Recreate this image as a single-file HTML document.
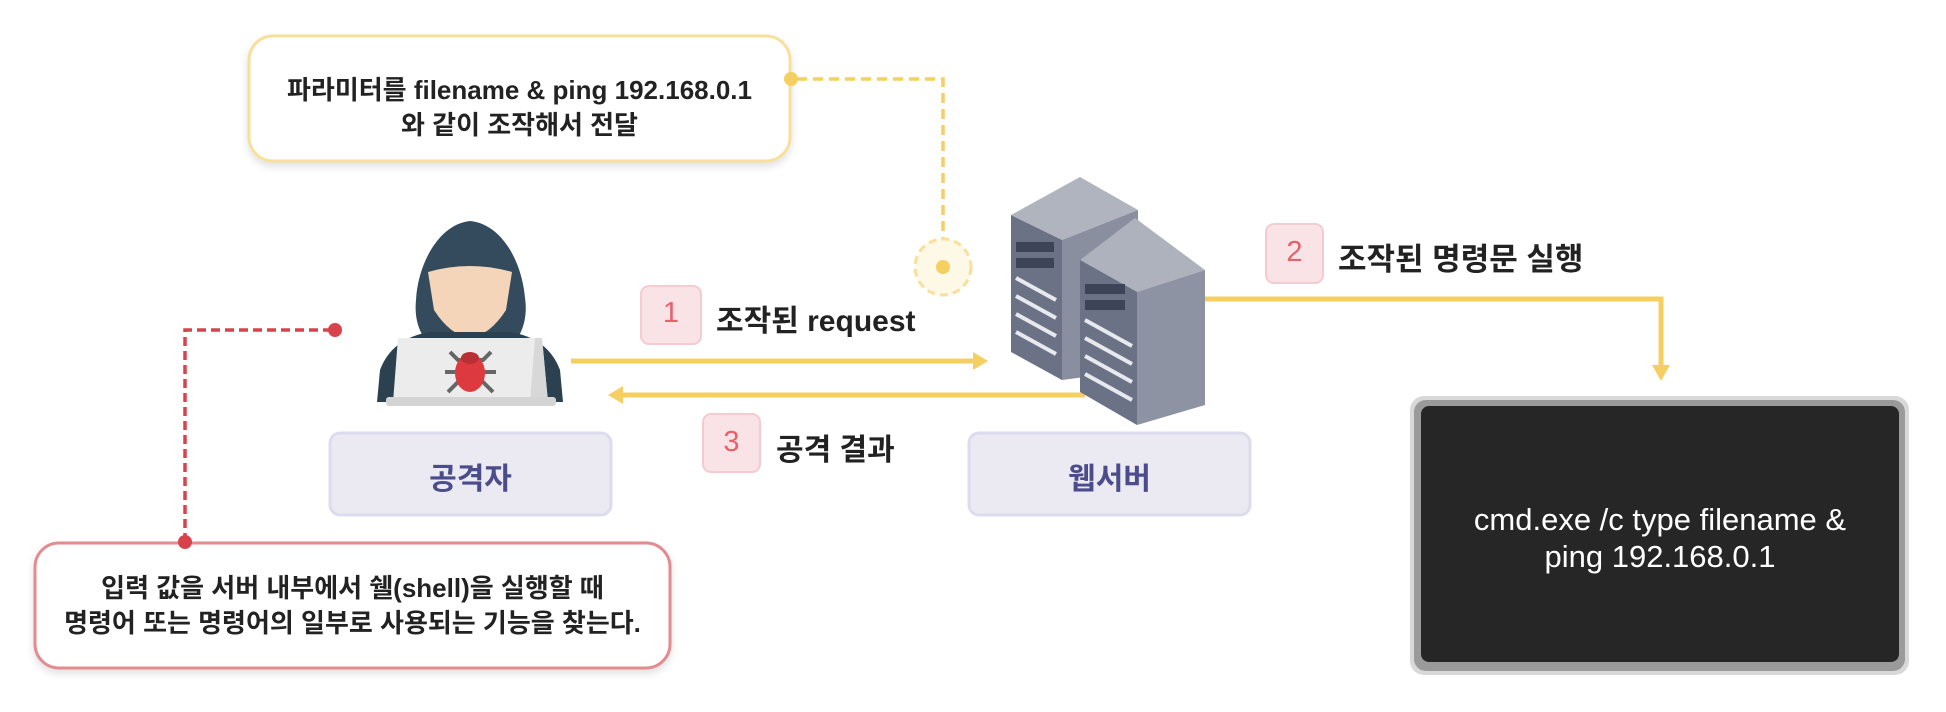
<!DOCTYPE html>
<html><head><meta charset="utf-8">
<style>
html,body{margin:0;padding:0;background:#fff;}
body{width:1946px;height:712px;overflow:hidden;position:relative;font-family:"Liberation Sans","Noto Sans CJK KR",sans-serif;}
.t{position:absolute;white-space:nowrap;}
</style></head><body>
<svg width="1946" height="712" style="position:absolute;left:0;top:0">
<defs>
<filter id="sh" x="-10%" y="-10%" width="120%" height="130%"><feDropShadow dx="0" dy="4" stdDeviation="4" flood-color="#000" flood-opacity="0.12"/></filter>
</defs>
<rect x="249" y="36" width="541" height="125" rx="24" fill="#fff" stroke="#f9e09a" stroke-width="3" filter="url(#sh)"/>
<circle cx="791" cy="79" r="7" fill="#f6cf63"/>
<path d="M797 79 H943 V267" fill="none" stroke="#f6cf63" stroke-width="3.5" stroke-dasharray="10 6"/>
<circle cx="943" cy="267" r="28" fill="#fef8e6" stroke="#f9e09a" stroke-width="3" stroke-dasharray="8 5"/>
<circle cx="943" cy="267" r="7" fill="#f6cf63"/>
<rect x="35" y="543" width="635" height="125" rx="24" fill="#fff" stroke="#e38b8f" stroke-width="3" filter="url(#sh)"/>
<path d="M185 542 V330 H335" fill="none" stroke="#d8434b" stroke-width="3.5" stroke-dasharray="9 5"/>
<circle cx="185" cy="542" r="7" fill="#d8434b"/>
<circle cx="335" cy="330" r="7" fill="#d8434b"/>
<path d="M470 221 C440 224 418 262 416 300 C414 320 420 335 430 345 L512 345 C522 335 528 318 525 298 C522 262 502 224 470 221Z" fill="#334b5c"/>
<path d="M428 272 Q470 260 512 272 L506 310 Q490 335 470 338 Q450 335 434 310Z" fill="#f5d5ba"/>
<path d="M380 370 Q392 338 430 332 L510 332 Q548 338 560 370 L563 402 L377 402Z" fill="#2b4150"/>
<path d="M398 338 H542 L548 402 H393Z" fill="#ececec"/>
<path d="M535 338 H542 L548 402 H530Z" fill="#d8d8d8"/>
<rect x="386" y="397" width="170" height="9" rx="3" fill="#d4d4d4"/>
<g stroke="#666" stroke-width="4" fill="none"><path d="M450 352 L458 360 L483 360 L491 352"/><path d="M445 372 H496"/><path d="M448 392 L458 382 L483 382 L493 392"/></g>
<ellipse cx="470" cy="373" rx="15" ry="19" fill="#dd3a3f"/><ellipse cx="470" cy="358" rx="9" ry="6" fill="#b73035"/>
<rect x="330" y="433" width="281" height="82" rx="10" fill="#ebe9f1" stroke="#dcdcee" stroke-width="3"/>
<rect x="969" y="433" width="281" height="82" rx="10" fill="#ebe9f1" stroke="#dcdcee" stroke-width="3"/>
<path d="M571 361 H975" stroke="#f6cf63" stroke-width="5"/><path d="M988 361 L973 352 L973 370Z" fill="#f6cf63"/>
<path d="M622 395 H1085" stroke="#f6cf63" stroke-width="5"/><path d="M608 395 L623 386 L623 404Z" fill="#f6cf63"/>
<path d="M1200 299 H1661 V368" fill="none" stroke="#f6cf63" stroke-width="5"/><path d="M1661 381 L1652 365 L1670 365Z" fill="#f6cf63"/>
<polygon points="1011,215 1080,177 1138,210 1062,240" fill="#b0b4bf"/>
<polygon points="1011,215 1062,240 1062,380 1011,352" fill="#6c7285"/>
<polygon points="1062,240 1138,210 1138,370 1062,380" fill="#8a8fa0"/>
<polygon points="1080,260 1135,218 1205,270 1137,292" fill="#aeb2bd"/>
<polygon points="1080,260 1137,292 1137,425 1080,392" fill="#6c7285"/>
<polygon points="1137,292 1205,270 1205,405 1137,425" fill="#8e93a3"/>
<g stroke="#e8e9ee" stroke-width="4"><path d="M1016 278 L1056 300M1016 296 L1056 318M1016 314 L1056 336M1016 332 L1056 354M1085 320 L1132 346M1085 338 L1132 364M1085 356 L1132 382M1085 374 L1132 400"/></g>
<g fill="#3e4457"><rect x="1016" y="242" width="38" height="10"/><rect x="1016" y="258" width="38" height="10"/><rect x="1085" y="284" width="40" height="10"/><rect x="1085" y="300" width="40" height="10"/></g>
<rect x="1410" y="396" width="499" height="279" rx="14" fill="#d8d8d8"/>
<rect x="1414" y="400" width="491" height="271" rx="12" fill="#9a9a9a"/>
<rect x="1421" y="406" width="478" height="256" rx="8" fill="#262626"/>
<rect x="641" y="286" width="60" height="58" rx="8" fill="#f9e3e6" stroke="#f4cbd0" stroke-width="2"/>
<rect x="703" y="414" width="57" height="58" rx="8" fill="#f9e3e6" stroke="#f4cbd0" stroke-width="2"/>
<rect x="1266" y="224" width="57" height="59" rx="8" fill="#f9e3e6" stroke="#f4cbd0" stroke-width="2"/>
</svg>
<div class="t" style="left:249px;width:541px;top:73px;text-align:center;font-size:26px;font-weight:bold;color:#222;line-height:35px">파라미터를 filename &amp; ping 192.168.0.1<br>와 같이 조작해서 전달</div>
<div class="t" style="left:35px;width:635px;top:571px;text-align:center;font-size:26px;font-weight:bold;color:#222;line-height:35px">입력 값을 서버 내부에서 쉘(shell)을 실행할 때<br>명령어 또는 명령어의 일부로 사용되는 기능을 찾는다.</div>
<div class="t" style="left:330px;width:281px;top:454px;text-align:center;font-size:30px;font-weight:bold;color:#4a4c8c">공격자</div>
<div class="t" style="left:969px;width:281px;top:454px;text-align:center;font-size:30px;font-weight:bold;color:#4a4c8c">웹서버</div>
<div class="t" style="left:641px;width:60px;top:297px;text-align:center;font-size:29px;color:#e8606a">1</div>
<div class="t" style="left:703px;width:57px;top:426px;text-align:center;font-size:29px;color:#e8606a">3</div>
<div class="t" style="left:1266px;width:57px;top:236px;text-align:center;font-size:29px;color:#e8606a">2</div>
<div class="t" style="left:716px;top:296px;font-size:30px;font-weight:bold;color:#222">조작된 request</div>
<div class="t" style="left:776px;top:425px;font-size:30px;font-weight:bold;color:#222">공격 결과</div>
<div class="t" style="left:1338px;top:234px;font-size:31px;font-weight:bold;color:#222">조작된 명령문 실행</div>
<div class="t" style="left:1421px;width:478px;top:501px;text-align:center;font-size:31px;color:#fff;line-height:37px">cmd.exe /c type filename &amp;<br>ping 192.168.0.1</div>
</body></html>
